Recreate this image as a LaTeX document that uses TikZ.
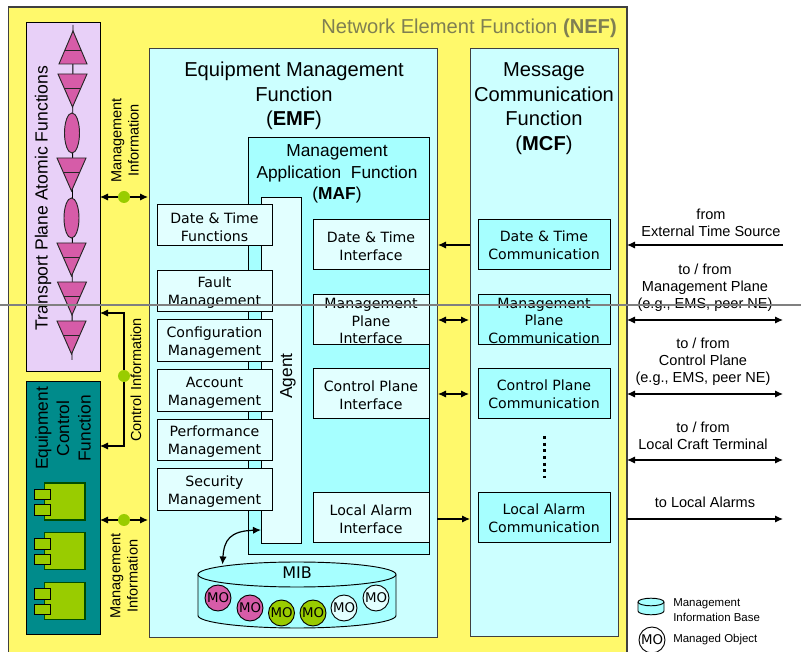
\documentclass[tikz,border=0pt]{standalone}
\usepackage{fontspec}
\usepackage{tikz}
\setmainfont{Liberation Sans}
\newfontfamily\boxfont{DejaVu Sans}
\usetikzlibrary{arrows.meta}
\definecolor{nefyellow}{HTML}{FFF96B}
\definecolor{neftext}{HTML}{7F7F52}
\definecolor{emfcyan}{HTML}{CCFFFF}
\definecolor{mafcyan}{HTML}{A6FFFF}
\definecolor{funcwhite}{HTML}{E2FFFF}
\definecolor{tplilac}{HTML}{E8D0F8}
\definecolor{ecfteal}{HTML}{008B8B}
\definecolor{pinkmo}{HTML}{D65CA8}
\definecolor{greenmo}{HTML}{99CC00}
\definecolor{borderdark}{HTML}{404040}
\newcommand{\ftop}{\rule{0pt}{11pt}}
\newcommand{\itop}{\rule{0pt}{9.4pt}}
\newcommand{\ctop}{\rule{0pt}{9pt}}
\tikzset{
  frame/.style={draw=black, line width=0.75pt},
  funcbox/.style={frame, fill=funcwhite, minimum width=86.25pt, minimum height=31pt, inner sep=0pt, align=center,
    font=\boxfont\fontsize{10.6}{13.5}\selectfont},
  ifbox/.style={funcbox, minimum width=87pt, minimum height=37.5pt},
  commbox/.style={funcbox, fill=mafcyan, minimum width=99pt, minimum height=37.5pt},
  threeline/.style={font=\boxfont\fontsize{10.6}{12.9}\selectfont},
  head/.style={align=center, inner sep=0pt, font=\fontsize{15.1}{18.4}\selectfont},
  note/.style={align=center, inner sep=0pt, font=\fontsize{10.9}{12.9}\selectfont},
  link/.style={line width=0.9pt, -{Latex[length=6pt,width=5.5pt]}},
  twolink/.style={line width=0.9pt, {Latex[length=6pt,width=5.5pt]}-{Latex[length=6pt,width=5.5pt]}},
  busdot/.style={circle, fill=greenmo, minimum size=9pt, inner sep=0pt},
  mo/.style={circle, draw=black, line width=0.7pt, minimum size=19.5pt, inner sep=0pt, font=\boxfont\fontsize{10}{10}\selectfont},
  unit/.style={draw=black!85, fill=pinkmo, line width=0.7pt},
}
\begin{document}
\begin{tikzpicture}[x=0.75pt,y=-0.75pt]
\useasboundingbox (0,0) rectangle (801,652);
\fill [white] (0,0) rectangle (801,652);
% outer function
\fill [nefyellow] (8.5,7) rectangle (627,652);
\draw [draw=borderdark, line width=1pt] (8.5,652) -- (8.5,7) -- (627,7) -- (627,652);
\node [anchor=east, inner sep=0pt, text=neftext, font=\fontsize{15.1}{18}\selectfont] (neftitle) at (617,28) {Network Element Function \textbf{(NEF)}};
% transport plane
\node [frame, fill=tplilac, minimum width=55.5pt, minimum height=261.75pt, inner sep=0pt, anchor=north west] (tpaf) at (25.5,22.5) {};
\node [rotate=90, inner sep=0pt, font=\fontsize{13.2}{16}\selectfont] (tpaftext) at (43,198) {Transport Plane Atomic Functions};
\draw [line width=0.7pt] (73,25) -- (72,360);
\draw [unit] (73,31) -- (87,64) -- (59,64) -- cycle;
\draw [unit] (64.7,50.5) -- (81.3,50.5);
\foreach \ytop/\xmid in {74/72.5, 158/71.5, 243/71.5, 282/72, 321/71.5} {
  \draw [unit] (\xmid-14.5,\ytop) -- (\xmid+14.5,\ytop) -- (\xmid,\ytop+33) -- cycle;
  \draw [unit] (\xmid-8.4,\ytop+14) -- (\xmid+8.4,\ytop+14);
}
\draw [unit] (72,133) ellipse (7.5 and 20);
\draw [unit] (71.5,218) ellipse (7.5 and 20);
% equipment control
\node [frame, fill=ecfteal, minimum width=55.5pt, minimum height=189.75pt, inner sep=0pt, anchor=north west] (ecf) at (25.5,381.5) {};
\node [rotate=90, inner sep=0pt, align=center, font=\fontsize{13}{16}\selectfont] (ecftext) at (63,428.5) {Equipment\\Control\\Function};
\foreach \ytop in {483,532.5,582.5} {
  \draw [fill=greenmo, draw=black!70!green, line width=0.9pt] (44.5,\ytop) rectangle (85,\ytop+37);
  \draw [fill=greenmo, draw=black, line width=0.7pt] (34.5,\ytop+6) rectangle (50.5,\ytop+16.5);
  \draw [fill=greenmo, draw=black, line width=0.7pt] (34.5,\ytop+21.5) rectangle (50.5,\ytop+32);
}
% equipment management
\node [draw=borderdark, line width=0.9pt, fill=emfcyan, minimum width=216pt, minimum height=441.75pt, inner sep=0pt, anchor=north west] (emf) at (149,48) {};
\node [head] (emftext) at (294,96) {Equipment Management\\Function\\(\textbf{EMF})};
% message communication
\node [draw=borderdark, line width=0.9pt, fill=emfcyan, minimum width=111pt, minimum height=441pt, inner sep=0pt, anchor=north west] (mcf) at (470,48) {};
\node [head] (mcftext) at (544,108.5) {Message\\Communication\\Function\\(\textbf{MCF})};
% management application
\node [frame, fill=mafcyan, minimum width=135.75pt, minimum height=312.75pt, inner sep=0pt, anchor=north west] (maf) at (248,137) {};
\node [align=center, inner sep=0pt, font=\fontsize{13}{16}\selectfont] (maftext) at (337,174) {Management\\Application\ \ Function\\(\textbf{MAF})};
\node [frame, fill=funcwhite, minimum width=30pt, minimum height=259.5pt, inner sep=0pt, anchor=north west] (agent) at (261,197) {};
\node [rotate=90, inner sep=0pt, font=\fontsize{13}{16}\selectfont] (agenttext) at (288,376) {Agent};
% functions
\node [funcbox] (dtf) at (214.5,225) {\ftop Date \& Time\\Functions};
\node [funcbox] (fm) at (214.5,291) {\ftop Fault\\Management};
\node [funcbox] (cm) at (214.5,340.5) {\ftop Configuration\\Management};
\node [funcbox] (am) at (214.5,390.5) {\ftop Account\\Management};
\node [funcbox] (pm) at (214.5,440) {\ftop Performance\\Management};
\node [funcbox] (sm) at (214.5,489.5) {\ftop Security\\Management};
% interfaces
\node [ifbox] (dti) at (371,245) {\itop Date \& Time\\Interface};
\node [ifbox, threeline] (mpi) at (371,320) {\itop Management\\Plane\\Interface};
\node [ifbox] (cpi) at (371,394) {\itop Control Plane\\Interface};
\node [ifbox] (lai) at (371,518) {\itop Local Alarm\\Interface};
% communication
\node [commbox] (dtc) at (544,245) {\ctop Date \& Time\\Communication};
\node [commbox, threeline] (mpc) at (544,320) {\ctop Management\\Plane\\Communication};
\node [commbox] (cpc) at (544,394) {\ctop Control Plane\\Communication};
\node [commbox] (lac) at (544,518) {\ctop Local Alarm\\Communication};
\coordinate (dotstop) at (544,436);
\coordinate (dotsbot) at (544,478);
\draw [line width=2.25pt, dash pattern=on 2.25pt off 2.75pt] (dotstop) -- (dotsbot);
% MIB
\draw [line width=0.7pt, fill=mafcyan] (198,574.5) -- (198,615.5) arc (180:0:99 and 12.5) -- (396,574.5) arc (360:180:99 and 12.5) -- cycle;
\draw [line width=0.7pt] (198,574.5) arc (180:0:99 and 12.5);
\node [inner sep=0pt, font=\boxfont\fontsize{12}{14}\selectfont] (mib) at (297,573) {MIB};
\node [mo, fill=pinkmo] (mo1) at (218,598) {MO};
\node [mo, fill=pinkmo] (mo2) at (250,608) {MO};
\node [mo, fill=greenmo] (mo3) at (281.5,613) {MO};
\node [mo, fill=greenmo] (mo4) at (313,613) {MO};
\node [mo, fill=funcwhite] (mo5) at (344,608) {MO};
\node [mo, fill=funcwhite] (mo6) at (376,598) {MO};
\coordinate (mibtop) at (222.5,564.5);
\coordinate (agentport) at (261,530);
\draw [twolink] (mibtop) .. controls (224,540) and (230,531) .. (agentport);
% internal links
\coordinate (tpport) at (100,197);
\coordinate (emfport) at (148,197);
\draw [twolink] (tpport) -- (emfport);
\node [busdot] (dota) at (124,197) {};
\node [note, rotate=90] (infoa) at (125,140.5) {Management\\Information};
\coordinate (tpctl) at (100,313);
\coordinate (ecfctl) at (100,446);
\draw [twolink] (tpctl) -- (124,313) -- (124,446) -- (ecfctl);
\node [busdot] (dotb) at (124,376) {};
\node [note, rotate=90] (infob) at (136,380) {Control Information};
\coordinate (ecfport) at (100,520);
\coordinate (emfportb) at (148,520);
\draw [twolink] (ecfport) -- (emfportb);
\node [busdot] (dotc) at (124,520) {};
\node [note, rotate=90] (infoc) at (124,576) {Management\\Information};
% between EMF and MCF
\coordinate (emfa) at (438,245);
\coordinate (mcfa) at (470,245);
\draw [link] (mcfa) -- (emfa);
\coordinate (emfb) at (438,320);
\coordinate (mcfb) at (469,320);
\draw [twolink] (emfb) -- (mcfb);
\coordinate (emfc) at (438,394);
\coordinate (mcfc) at (469,394);
\draw [twolink] (emfc) -- (mcfc);
\coordinate (emfd) at (437,519);
\coordinate (mcfd) at (470,519);
\draw [link] (emfd) -- (mcfd);
% external
\coordinate (exta) at (783,245);
\coordinate (nefa) at (627,245);
\draw [link] (exta) -- (nefa);
\node [note] (exttext) at (711,223) {from\\External Time Source};
\coordinate (extb) at (783,320);
\coordinate (nefb) at (627,320);
\draw [twolink] (nefb) -- (extb);
\node [note] (mptext) at (705,287.5) {to / from\\Management Plane\\(e.g., EMS, peer NE)};
\coordinate (extc) at (783,394);
\coordinate (nefc) at (627,394);
\draw [twolink] (nefc) -- (extc);
\node [note] (cptext) at (703,361.5) {to / from\\Control Plane\\(e.g., EMS, peer NE)};
\coordinate (extd) at (783,460);
\coordinate (nefd) at (627,460);
\draw [twolink] (nefd) -- (extd);
\node [note] (lcttext) at (703,435.5) {to / from\\Local Craft Terminal};
\coordinate (exte) at (783,519);
\coordinate (nefe) at (627,519);
\draw [link] (nefe) -- (exte);
\node [note] (alarmtext) at (705,502) {to Local Alarms};
% legend
\draw [line width=0.7pt, fill=mafcyan] (638,602) -- (638,611) arc (180:0:13 and 3.8) -- (664,602) arc (360:180:13 and 3.8) -- cycle;
\draw [line width=0.7pt] (638,602) arc (180:0:13 and 3.8);
\node [anchor=west, align=left, inner sep=0pt, font=\fontsize{8.6}{11.3}\selectfont] (mibtext) at (673,610) {Management\\Information Base};
\node [mo, fill=white] (molegend) at (652,640) {MO};
\node [anchor=west, inner sep=0pt, font=\fontsize{8.6}{11}\selectfont] (motext) at (673,640) {Managed Object};
% gray rule
\coordinate (rulea) at (0,305);
\coordinate (ruleb) at (801,305);
\draw [line width=1.1pt, black!50] (rulea) -- (ruleb);
\end{tikzpicture}
\end{document}
